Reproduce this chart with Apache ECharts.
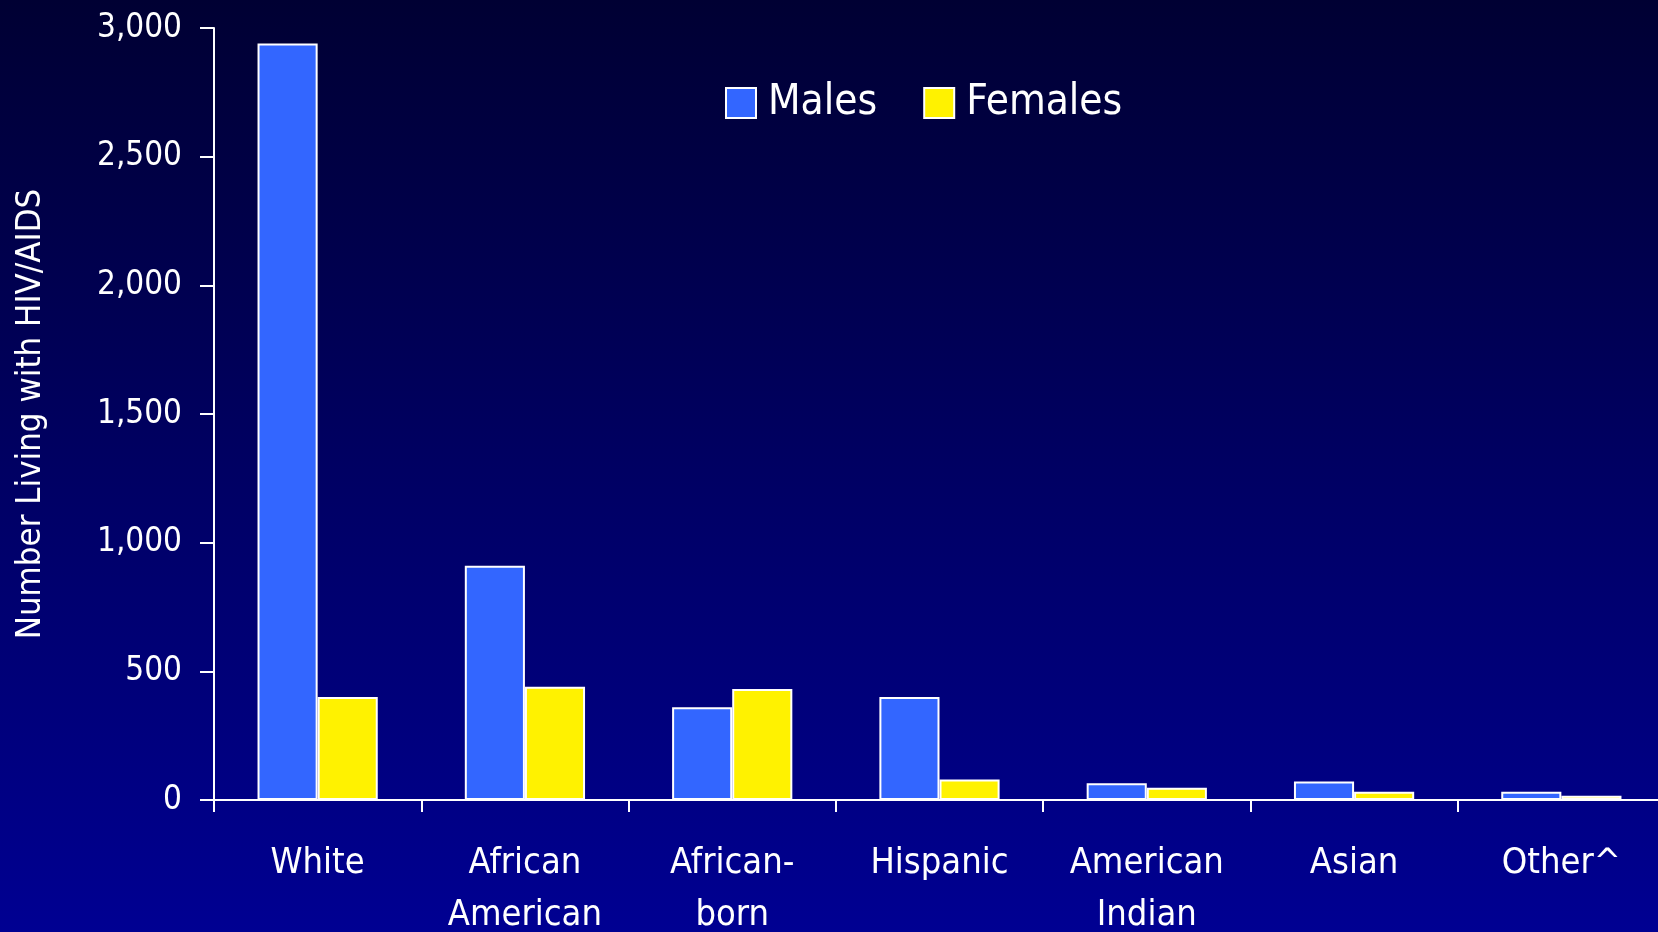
<!DOCTYPE html>
<html>
<head>
<meta charset="utf-8">
<script src="https://cdn.jsdelivr.net/npm/echarts@6/dist/echarts.min.js"></script>
<style>
html,body{margin:0;padding:0;width:1658px;height:932px;overflow:hidden;}
#c{width:1658px;height:932px;}
</style>
</head>
<body>
<div id="c"></div>
<script>
const categories = ['White', 'African\nAmerican', 'African-\nborn', 'Hispanic', 'American\nIndian', 'Asian', 'Other^'];
const males = [2940, 910, 360, 400, 65, 72, 32];
const females = [400, 440, 431, 80, 48, 32, 17];
const seriesNames = ['Males', 'Females'];
const yAxisTitle = 'Number Living with HIV/AIDS';

const FONT = "'Liberation Sans Narrow', 'Arial Narrow', 'DejaVu Sans Condensed', sans-serif";
const chart = echarts.init(document.getElementById('c'));
chart.setOption({
  backgroundColor: {
    type: 'linear', x: 0, y: 0, x2: 0, y2: 1,
    colorStops: [{offset: 0, color: '#000033'}, {offset: 1, color: '#000092'}]
  },
  textStyle: {fontFamily: FONT},
  legend: {
    left: 720, top: 76,
    icon: 'rect', itemWidth: 30, itemHeight: 30, itemGap: 46,
    textStyle: {color: '#fff', fontSize: 42, fontFamily: FONT, lineHeight: 44, padding: [0, 0, 0, 7]},
    data: seriesNames
  },
  grid: {left: 214, top: 28, bottom: 132, right: -7, containLabel: false, outerBoundsMode: 'none'},
  xAxis: {
    type: 'category',
    data: categories,
    axisLine: {lineStyle: {color: '#fff', width: 2}},
    axisTick: {show: true, length: 12, lineStyle: {color: '#fff', width: 2}},
    axisLabel: {color: '#fff', fontSize: 36, lineHeight: 52, margin: 38, interval: 0, fontFamily: FONT}
  },
  yAxis: {
    type: 'value', min: 0, max: 3000, interval: 500,
    name: yAxisTitle, nameLocation: 'middle', nameGap: 165,
    nameTextStyle: {color: '#fff', fontSize: 34.5, fontFamily: FONT},
    splitLine: {show: false},
    axisLine: {show: true, lineStyle: {color: '#fff', width: 2}},
    axisTick: {show: true, length: 14, lineStyle: {color: '#fff', width: 2}},
    axisLabel: {color: '#fff', fontSize: 33, margin: 32, fontFamily: FONT,
      formatter: v => v.toLocaleString('en-US')}
  },
  series: [
    {name: seriesNames[0], type: 'bar', data: males, barGap: 0, barCategoryGap: '42%',
     itemStyle: {color: '#3366FF', borderColor: '#fff', borderWidth: 2}},
    {name: seriesNames[1], type: 'bar', data: females, barGap: 0, barCategoryGap: '42%',
     itemStyle: {color: '#FFF200', borderColor: '#fff', borderWidth: 2}}
  ]
});
</script>
</body>
</html>
